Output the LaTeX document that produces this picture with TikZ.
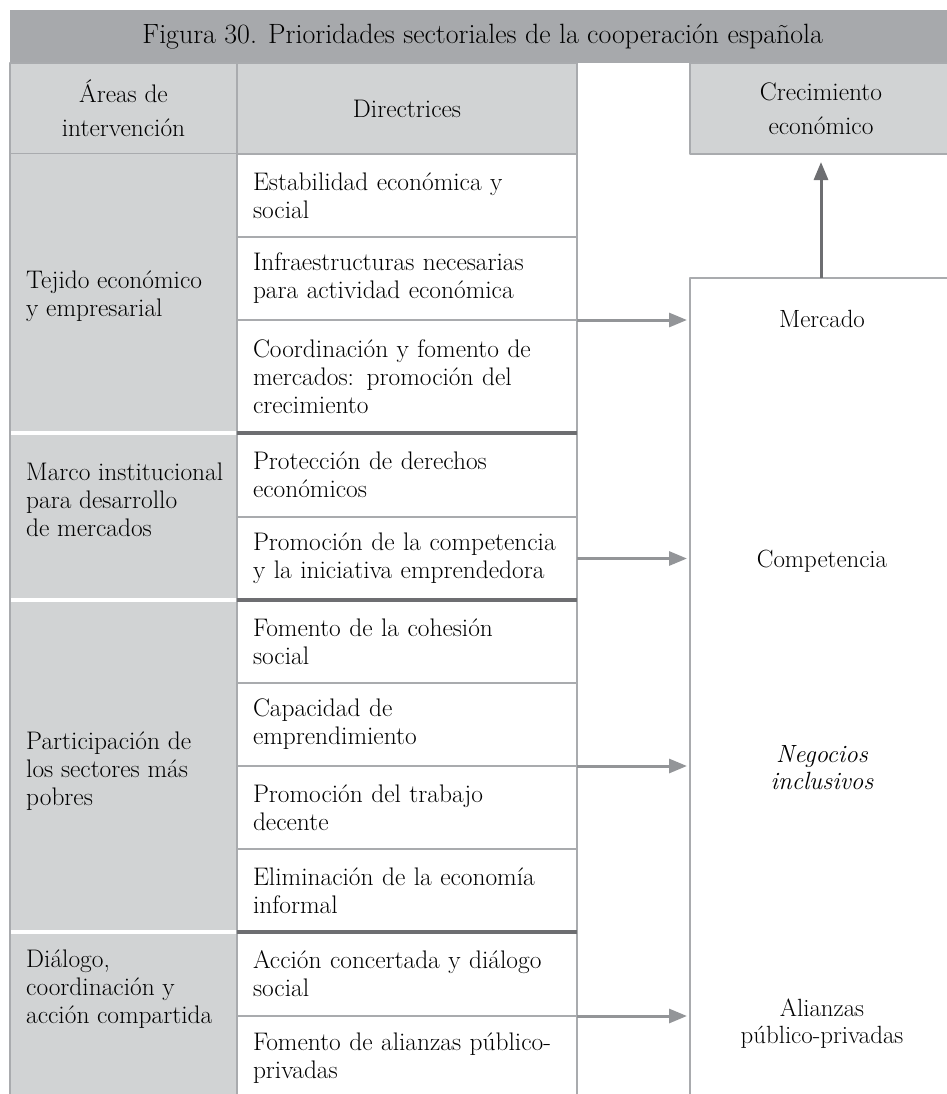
\documentclass[tikz,border=0pt]{standalone}
\usepackage{fontspec}
\usetikzlibrary{arrows.meta}
\definecolor{grisTitulo}{HTML}{A7A9AC}
\definecolor{grisClaro}{HTML}{D1D3D4}
\definecolor{grisLinea}{HTML}{A9ABAE}
\definecolor{grisOscuro}{HTML}{6D6E71}
\definecolor{grisFlecha}{HTML}{939598}
\begin{document}
\begin{tikzpicture}[x=1bp, y=-1bp, line join=round, >={Triangle[length=18bp, width=14bp]},
	titulo/.style={anchor=north west, fill=grisTitulo, minimum width=945bp, minimum height=53bp, inner sep=0pt, font=\fontsize{28}{32}\selectfont},
	cabecera/.style={anchor=north west, fill=grisClaro, draw=grisLinea, line width=1.5bp, outer sep=0pt, minimum height=91bp, inner sep=0pt, align=center, font=\fontsize{25.5}{34}\selectfont},
	area/.style={anchor=north west, fill=grisClaro, minimum width=227bp, outer sep=0pt, inner sep=0pt},
	areatxt/.style={anchor=west, inner sep=0pt, align=left, font=\fontsize{25.5}{28}\selectfont},
	celda/.style={anchor=north west, draw=grisLinea, line width=1.5bp, outer sep=0pt, minimum width=340bp, text width=308bp, inner xsep=16bp, inner ysep=4bp, align=left, font=\fontsize{25.5}{28}\selectfont},
	efecto/.style={align=center, inner sep=0pt, font=\fontsize{25}{27}\selectfont},
	linea/.style={draw=grisLinea, line width=1.5bp},
	grueso/.style={draw=grisOscuro, line width=4.5bp},
	flecha/.style={->, draw=grisFlecha, fill=grisFlecha, line width=3bp, shorten >=3bp}]
	\useasboundingbox (0,0) rectangle (947,1094);
	\node[titulo] (tit) at (10,10) {Figura 30. Prioridades sectoriales de la cooperación española};
	\node[cabecera, minimum width=227bp] (cab1) at (10,63) {Áreas de\\intervención};
	\node[cabecera, minimum width=340bp] (cab2) at (237,63) {Directrices};
	\node[cabecera, minimum width=262bp] (crec) at (690,63) {Crecimiento\\económico};
	\node[area, minimum height=277bp] (a1) at (10,154) {};
	\node[area, minimum height=163bp] (a2) at (10,435) {};
	\node[area, minimum height=328bp] (a3) at (10,602) {};
	\node[area, minimum height=170bp] (a4) at (10,934) {};
	\draw[linea] (cab1.south west) -- (cab1.south west |- a4.south);
	\node[areatxt] (t1) at (26,296) {Tejido económico\\y empresarial};
	\node[areatxt] (t2) at (26,500) {Marco institucional\\para desarrollo\\de mercados};
	\node[areatxt] (t3) at (26,771) {Participación de\\los sectores más\\pobres};
	\node[areatxt] (t4) at (26,989) {Diálogo,\\coordinación y\\acción compartida};
	\node[celda, minimum height=83bp] (d1) at (237,154) {Estabilidad económica y\\social};
	\node[celda, minimum height=83bp] (d2) at (237,237) {Infraestructuras necesarias\\para actividad económica};
	\node[celda, minimum height=113bp] (d3) at (237,320) {Coordinación y fomento de\\mercados: promoción del\\crecimiento};
	\node[celda, minimum height=84bp] (d4) at (237,433) {Protección de derechos\\económicos};
	\node[celda, minimum height=83bp] (d5) at (237,517) {Promoción de la competencia\\y la iniciativa emprendedora};
	\node[celda, minimum height=83bp] (d6) at (237,600) {Fomento de la cohesión\\social};
	\node[celda, minimum height=83bp] (d7) at (237,683) {Capacidad de\\emprendimiento};
	\node[celda, minimum height=83bp] (d8) at (237,766) {Promoción del trabajo\\decente};
	\node[celda, minimum height=83bp] (d9) at (237,849) {Eliminación de la economía\\informal};
	\node[celda, minimum height=84bp] (d10) at (237,932) {Acción concertada y diálogo\\social};
	\node[celda, minimum height=84bp] (d11) at (237,1016) {Fomento de alianzas público-\\privadas};
	\draw[grueso] (d3.south west) -- (d3.south east);
	\draw[grueso] (d5.south west) -- (d5.south east);
	\draw[grueso] (d9.south west) -- (d9.south east);
	\node[linea, anchor=north west, outer sep=0pt, minimum width=262bp, minimum height=830bp] (caja) at (690,278) {};
	\node[efecto] (merc) at (822,319) {Mercado};
	\node[efecto] (comp) at (822,561) {Competencia};
	\node[efecto, font=\fontsize{25}{27}\selectfont\itshape] (neg) at (822,768) {Negocios\\inclusivos};
	\node[efecto] (ali) at (822,1024) {Alianzas\\público-privadas};
	\draw[flecha] (d2.south east) -- (d2.south east -| caja.west);
	\draw[flecha] (d5.east) -- (d5.east -| caja.west);
	\draw[flecha] (d7.south east) -- (d7.south east -| caja.west);
	\draw[flecha] (d10.south east) -- (d10.south east -| caja.west);
	\draw[flecha, draw=grisOscuro, fill=grisOscuro, shorten >=8bp] (caja.north -| crec.south) -- (crec.south);
\end{tikzpicture}
\end{document}
